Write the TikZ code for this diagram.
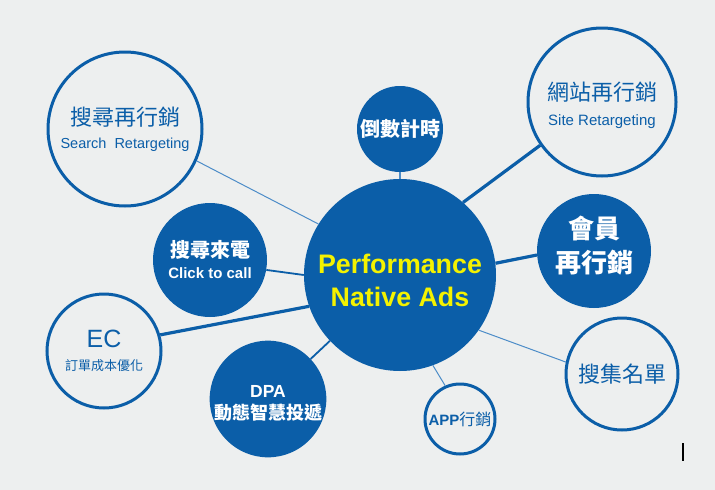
\documentclass[tikz,border=0pt]{standalone}
\usepackage{fontspec}
\setmainfont{Liberation Sans}
\newfontfamily\cjk{Noto Sans CJK TC}
\definecolor{adblue}{HTML}{0B5EA8}
\definecolor{thinblue}{HTML}{4C8CC8}
\definecolor{bgpaper}{HTML}{EDEFEF}
\definecolor{adyellow}{HTML}{F4F200}
\newcommand{\fs}[1]{\fontsize{#1}{#1}\selectfont}
\newcommand{\fsb}[2]{\fontsize{#1}{#2}\selectfont}
\begin{document}
\begin{tikzpicture}[x=1pt,y=-1pt,
  ring/.style={circle, draw=adblue, line width=3pt, inner sep=0pt, text=adblue, align=center},
  disc/.style={circle, fill=adblue, inner sep=0pt, text=white, align=center},
  thinlink/.style={draw=thinblue, line width=1pt},
  midlink/.style={draw=adblue, line width=1.8pt},
  thicklink/.style={draw=adblue, line width=3.2pt},
]
\fill[bgpaper] (0,0) rectangle (715,490);
\useasboundingbox (0,0) rectangle (715,490);

\node[disc, minimum size=192pt, text=adyellow, font=\bfseries\fsb{26.8}{33}] (perf) at (400,275)
  {\rule{0pt}{31pt}Performance\\Native Ads};
\node[disc, minimum size=86pt, font=\cjk\bfseries\fs{20}] (time) at (400,129) {倒數計時};
\node[ring, minimum size=154pt, font=\fsb{14.5}{23}] (search) at (125,129)
  {{\cjk\fs{22}搜尋再行銷}\\{\fs{14.5}Search\ \ Retargeting}};
\node[ring, minimum size=148pt, font=\fsb{15}{25}] (site) at (602,102)
  {{\cjk\fs{22}\rule{0pt}{25.4pt}網站再行銷}\\{\fs{15}Site Retargeting}};
\node[disc, minimum size=114pt, font=\cjk\bfseries\fsb{26}{34}] (member) at (594,251)
  {會員\\再行銷\rule[-14pt]{0pt}{0pt}};
\node[ring, minimum size=112pt, font=\cjk\fs{22}] (collect) at (622,374) {搜集名單};
\node[ring, minimum size=70pt] (app) at (460,419)
  {{\bfseries\fs{15}APP}{\cjk\fs{16}行銷}};
\node[disc, minimum size=112pt, font=\fsb{17.5}{22}] (dpa) at (268,399)
  {{\bfseries\fs{17.5}\rule{0pt}{20.6pt}DPA}\\{\cjk\bfseries\fs{18}動態智慧投遞}};
\node[ring, minimum size=114pt, font=\fsb{13}{23}] (ec) at (104,351)
  {{\fs{25}EC}\\{\cjk\fs{13}訂單成本優化}};
\node[disc, minimum size=114pt, font=\fsb{15}{21}] (call) at (210,260)
  {{\cjk\bfseries\fs{20}搜尋來電}\\{\bfseries\fs{15}Click to call}};

\draw[thinlink] (search.336.7) -- (perf.148);
\draw[thinlink, line width=1.3pt] (time.south) -- (perf.north);
\draw[thicklink] (site.215) -- (perf.49);
\draw[thicklink] (member.184) -- (perf.7);
\draw[thinlink] (collect.168) -- (perf.325);
\draw[thinlink] (app.114) -- (perf.290);
\draw[midlink] (dpa) -- (perf);
\draw[thicklink] (ec.16.8) -- (perf.199.3);
\draw[midlink] (call.350) -- (perf.180.6);

\coordinate (bartop) at (683,443);
\coordinate (barbot) at (683,461);
\draw[black, line width=2pt] (bartop) -- (barbot);
\end{tikzpicture}
\end{document}
